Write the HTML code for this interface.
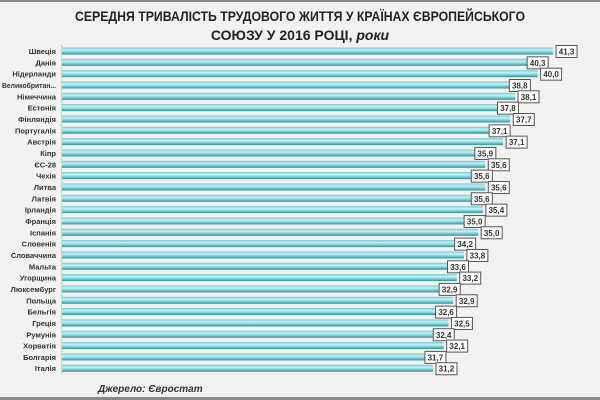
<!DOCTYPE html>
<html><head><meta charset="utf-8"><style>
html,body{margin:0;padding:0;background:#f2f2f2;}
svg{display:block;}
</style></head><body>
<svg id="s" width="600" height="400" xmlns="http://www.w3.org/2000/svg" font-family="'Liberation Sans', sans-serif">
<defs>
<linearGradient id="g" x1="0" y1="0" x2="0" y2="1">
<stop offset="0" stop-color="#6cc8d0"/>
<stop offset="0.35" stop-color="#c9f1f4"/>
<stop offset="0.65" stop-color="#7fd2d9"/>
<stop offset="1" stop-color="#2f8e98"/>
</linearGradient>
</defs>
<rect x="0" y="0" width="600" height="400" fill="#f2f2f2"/>
<rect x="0" y="0" width="600" height="2" fill="#888"/>
<rect x="0" y="397" width="600" height="3" fill="#888"/>
<text x="300" y="21" text-anchor="middle" font-size="14" font-weight="bold" fill="#222" textLength="450" lengthAdjust="spacingAndGlyphs">СЕРЕДНЯ ТРИВАЛІСТЬ ТРУДОВОГО ЖИТТЯ У КРАЇНАХ ЄВРОПЕЙСЬКОГО</text>
<text x="300" y="40" text-anchor="middle" font-size="14" font-weight="bold" fill="#222">СОЮЗУ У 2016 РОЦІ, <tspan font-style="italic">роки</tspan></text>
<line x1="61.5" y1="44" x2="61.5" y2="374" stroke="#d0d0d0"/>
<g id="rows"></g>
<text x="98" y="392" font-size="10" font-weight="bold" font-style="italic" fill="#333">Джерело: Євростат</text>
</svg>
<script>
var d=[["Швеція",41.3],["Данія",40.3],["Нідерланди",40.0],["Великобритан...",38.8],["Німеччина",38.1],["Естонія",37.8],["Фінляндія",37.7],["Португалія",37.1],["Австрія",37.1],["Кіпр",35.9],["ЄС-28",35.6],["Чехія",35.6],["Литва",35.6],["Латвія",35.6],["Ірландія",35.4],["Франція",35.0],["Іспанія",35.0],["Словенія",34.2],["Словаччина",33.8],["Мальта",33.6],["Угорщина",33.2],["Люксембург",32.9],["Польща",32.9],["Бельгія",32.6],["Греція",32.5],["Румунія",32.4],["Хорватія",32.1],["Болгарія",31.7],["Італія",31.2]];
var h="";
d.forEach(function(r,i){
 var cy=51+i*11.33, end=62+r[1]*11.89;
 var tl = r[0].length>12 ? ' textLength="54" lengthAdjust="spacingAndGlyphs"' : '';
 h+='<text x="56" y="'+(cy+3)+'" text-anchor="end" font-size="7.5" font-weight="bold" fill="#333"'+tl+'>'+r[0]+'</text>';
 h+='<rect x="62" y="'+(cy-3.5)+'" width="'+(end-62)+'" height="7" fill="url(#g)"/>';
 var bx = (i%2==0)? end+3 : end-14;
 var v=r[1].toFixed(1).replace('.',',');
 h+='<rect x="'+bx+'" y="'+(cy-5.5)+'" width="21" height="12" fill="#fff" stroke="#555" stroke-width="1"/>';
 h+='<text x="'+(bx+10.5)+'" y="'+(cy+3.5)+'" text-anchor="middle" font-size="8" font-weight="bold" fill="#333">'+v+'</text>';
});
document.getElementById("rows").innerHTML=h;
</script>
</body></html>
